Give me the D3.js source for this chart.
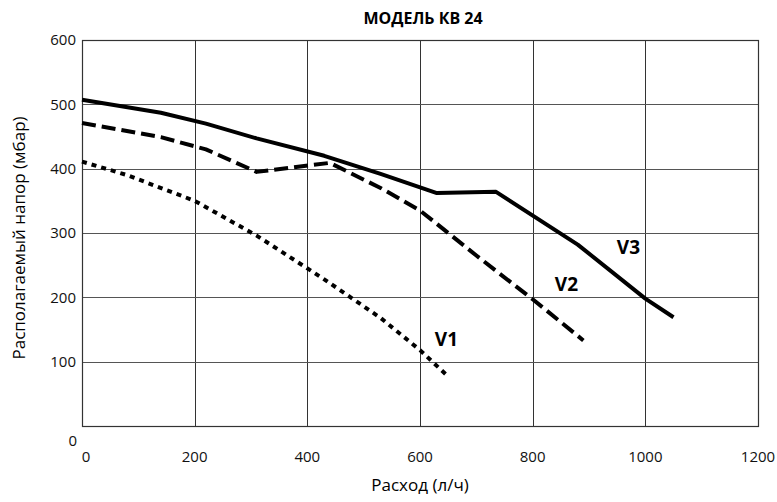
<!DOCTYPE html>
<html>
<head>
<meta charset="utf-8">
<script src="https://cdn.jsdelivr.net/npm/d3@7"></script>
<style>
  body { margin: 0; background: #fff; }
  svg { display: block; font-family: "Open Sans", "DejaVu Sans", sans-serif; }
</style>
</head>
<body>
<div id="chart"></div>
<script>
// data (flow l/h, pressure mbar)
var v3X = [0, 140, 220, 310, 430, 530, 630, 735, 880, 1000, 1050];
var v3Y = [507, 487, 470, 447, 420, 392, 362, 364, 282, 198, 169];
var v2X = [0, 140, 220, 310, 440, 530, 600, 700, 800, 890];
var v2Y = [471, 449, 430, 395, 409, 370, 335, 265, 197, 133];
var v1X = [0, 80, 200, 310, 430, 475, 530, 600, 650];
var v1Y = [411, 390, 350, 296, 228, 201, 168, 118, 77];

var seriesNames = ["V1", "V2", "V3"];
var labelX = [647, 860, 970];
var labelY = [135, 220, 278];

var xTicks = [0, 200, 400, 600, 800, 1000, 1200];
var yTicks = [0, 100, 200, 300, 400, 500, 600];

var title = "МОДЕЛЬ КВ 24";
var xTitle = "Расход (л/ч)";
var yTitle = "Располагаемый напор (мбар)";

var width = 777, height = 502;
var margin = {left: 82, right: 19, top: 40, bottom: 76};

var x = d3.scaleLinear().domain([0, 1200]).range([margin.left, width - margin.right]);
var y = d3.scaleLinear().domain([0, 600]).range([height - margin.bottom, margin.top]);

var svg = d3.select("#chart").append("svg")
    .attr("width", width)
    .attr("height", height);

var g = svg.append("g");

// grid
g.selectAll(".vgrid")
    .data(xTicks.slice(1, -1))
  .enter().append("line")
    .attr("x1", function(d) { return Math.round(x(d)) + 0.5; })
    .attr("x2", function(d) { return Math.round(x(d)) + 0.5; })
    .attr("y1", y(600))
    .attr("y2", y(0))
    .attr("stroke", "#333")
    .attr("stroke-width", 1);

g.selectAll(".hgrid")
    .data(yTicks.slice(1, -1))
  .enter().append("line")
    .attr("x1", x(0))
    .attr("x2", x(1200))
    .attr("y1", function(d) { return Math.round(y(d)) + 0.5; })
    .attr("y2", function(d) { return Math.round(y(d)) + 0.5; })
    .attr("stroke", "#555")
    .attr("stroke-width", 1);

// frame
g.append("rect")
    .attr("x", Math.round(x(0)) + 0.5)
    .attr("y", Math.round(y(600)) + 0.5)
    .attr("width", Math.round(x(1200)) - Math.round(x(0)))
    .attr("height", Math.round(y(0)) - Math.round(y(600)))
    .attr("fill", "none")
    .attr("stroke", "#333")
    .attr("stroke-width", 1.2);

// tick labels
g.selectAll(".ytick")
    .data(yTicks)
  .enter().append("text")
    .attr("x", function(d) { return d === 0 ? 77 : 76; })
    .attr("y", function(d) { return d === 0 ? y(d) + 15 : y(d); })
    .attr("dy", "0.35em")
    .attr("text-anchor", "end")
    .attr("font-size", "15px")
    .attr("fill", "#111")
    .text(function(d) { return d; });

g.selectAll(".xtick")
    .data(xTicks)
  .enter().append("text")
    .attr("x", function(d) { return d === 0 ? x(d) + 4 : x(d); })
    .attr("y", 457)
    .attr("dy", "0.35em")
    .attr("text-anchor", "middle")
    .attr("font-size", "15px")
    .attr("fill", "#111")
    .text(function(d) { return d; });

// curves
var line = d3.line()
    .x(function(d) { return x(d[0]); })
    .y(function(d) { return y(d[1]); });

var curves = [
  {xs: v1X, ys: v1Y, dash: "5,5"},
  {xs: v2X, ys: v2Y, dash: "14,6"},
  {xs: v3X, ys: v3Y, dash: null}
];

curves.forEach(function(c) {
  var pts = d3.zip(c.xs, c.ys);
  g.append("path")
      .datum(pts)
      .attr("d", line)
      .attr("fill", "none")
      .attr("stroke", "#000")
      .attr("stroke-width", 4)
      .attr("stroke-linejoin", "round")
      .attr("stroke-dasharray", c.dash);
});

// series labels
g.selectAll(".slabel")
    .data(seriesNames)
  .enter().append("text")
    .attr("x", function(d, i) { return x(labelX[i]); })
    .attr("y", function(d, i) { return y(labelY[i]); })
    .attr("text-anchor", "middle")
    .attr("dy", "0.35em")
    .attr("font-size", "19px")
    .attr("font-weight", "bold")
    .text(function(d) { return d; });

// titles
svg.append("text")
    .attr("x", 423)
    .attr("y", 18)
    .attr("dy", "0.35em")
    .attr("text-anchor", "middle")
    .attr("font-size", "16px")
    .attr("font-weight", "bold")
    .text(title);

svg.append("text")
    .attr("x", 420)
    .attr("y", 485)
    .attr("dy", "0.35em")
    .attr("text-anchor", "middle")
    .attr("font-size", "17px")
    .text(xTitle);

svg.append("text")
    .attr("transform", "translate(19,238) rotate(-90)")
    .attr("dy", "0.35em")
    .attr("text-anchor", "middle")
    .attr("font-size", "17px")
    .text(yTitle);
</script>
</body>
</html>
